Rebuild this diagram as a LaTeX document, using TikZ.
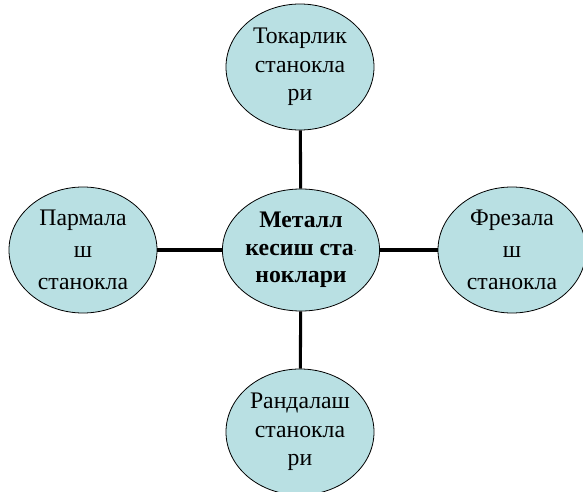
\documentclass[tikz,border=0pt]{standalone}
\usepackage{fontspec}
\setmainfont{Liberation Serif}
\usetikzlibrary{shapes.geometric}
\definecolor{bub}{RGB}{185,224,227}
\begin{document}
\begin{tikzpicture}[x=0.75pt,y=-0.75pt,
  bubble/.style={ellipse,draw=black,line width=0.6pt,fill=bub,inner sep=0pt,
    minimum width=148*0.75pt,minimum height=126*0.75pt,align=center,
    font=\fontsize{17.8}{21.5}\selectfont},
  link/.style={line width=2.3pt,black}]
\useasboundingbox (0,0) rectangle (583,492);
\node[bubble] (top) at (300,67) {Токарлик\\станокла\\ри};
\node[bubble,minimum width=152*0.75pt,minimum height=122*0.75pt,font=\bfseries\fontsize{17.8}{20.5}\selectfont] (mid) at (301,250) {Металл\\кесиш ста{\fontsize{6}{6}\selectfont\raisebox{0.35ex}{·}}\\ноклари};
\node[bubble,font=\fontsize{17.8}{24}\selectfont] (left) at (83,250) {Пармала\\ш\\станокла};
\node[bubble,font=\fontsize{17.8}{24}\selectfont] (right) at (512,250) {Фрезала\\ш\\станокла};
\node[bubble] (bot) at (300,432) {Рандалаш\\станокла\\ри};
\draw[link] (top) -- (mid);
\draw[link] (mid) -- (bot);
\draw[link] (left) -- (mid);
\draw[link] (mid) -- (right);
\end{tikzpicture}
\end{document}
